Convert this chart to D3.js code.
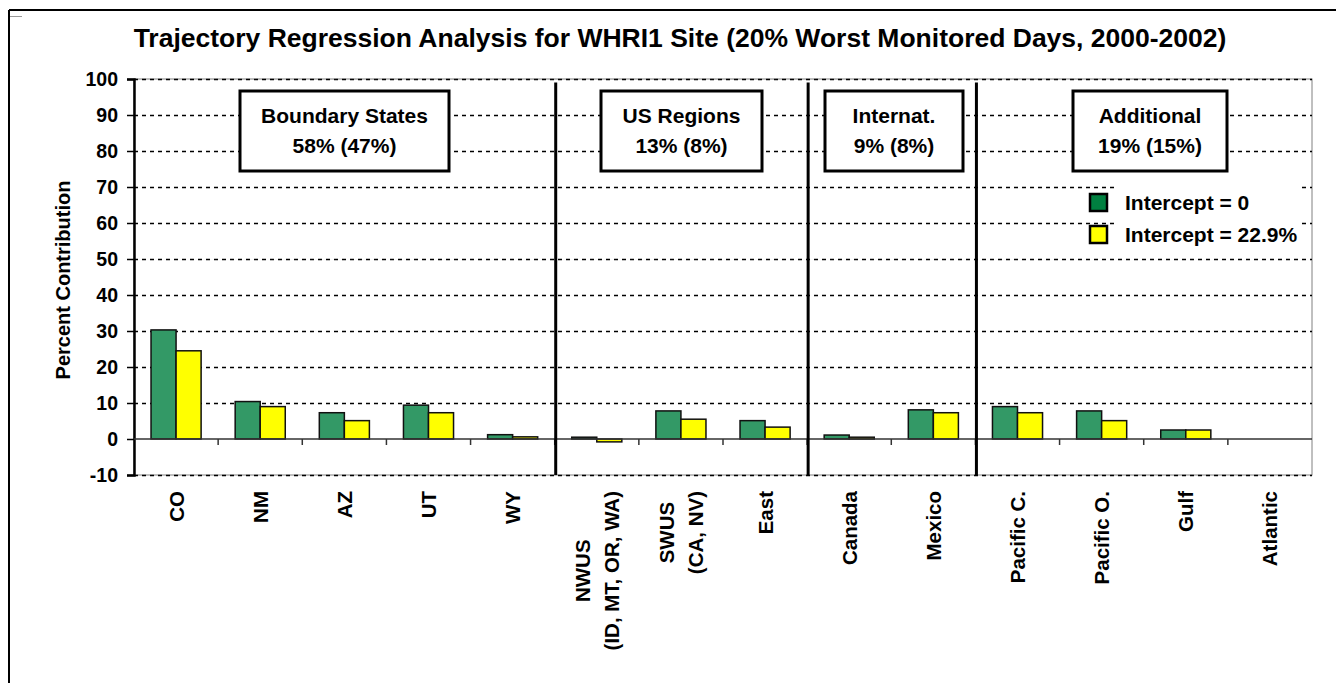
<!DOCTYPE html>
<html>
<head>
<meta charset="utf-8">
<script src="https://cdn.jsdelivr.net/npm/d3@7"></script>
<style>
  body { margin: 0; background: #fff; }
  text { font-family: "Liberation Sans", Arial, sans-serif; font-weight: bold; fill: #000; }
</style>
</head>
<body>
<div id="chart"></div>
<script>
// categories (multi-line labels split by |)
var categories = ["CO", "NM", "AZ", "UT", "WY", "NWUS|(ID, MT, OR, WA)", "SWUS|(CA, NV)", "East",
                  "Canada", "Mexico", "Pacific C.", "Pacific O.", "Gulf", "Atlantic"];
var intercept0 = [30.3, 10.4, 7.3, 9.4, 1.2, 0.5, 7.8, 5.1, 1.1, 8.1, 9.0, 7.8, 2.5, 0];
var intercept229 = [24.5, 9.0, 5.1, 7.3, 0.6, -0.8, 5.5, 3.3, 0.5, 7.3, 7.3, 5.1, 2.5, 0];
var seriesNames = ["Intercept = 0", "Intercept = 22.9%"];
var yTicks = [-10, 0, 10, 20, 30, 40, 50, 60, 70, 80, 90, 100];

// group boxes: label, summary, first category index
var groupTitles = ["Boundary States", "US Regions", "Internat.", "Additional"];
var groupSummaries = ["58% (47%)", "13% (8%)", "9% (8%)", "19% (15%)"];
var groupStarts = [0, 5, 8, 10];

var W = 1336, H = 683;
var margin = {left: 134, right: 24, top: 79, bottom: 208};
var colors = ["#339966", "#ffff00"];
var legendColors = ["#008040", "#ffff00"];

var svg = d3.select("#chart").append("svg")
  .attr("width", W).attr("height", H);

// outer frame
svg.append("line").attr("x1", 9).attr("x2", W).attr("y1", 10).attr("y2", 10)
  .attr("stroke", "#000").attr("stroke-width", 2);
svg.append("line").attr("x1", 9).attr("x2", 9).attr("y1", 10).attr("y2", H)
  .attr("stroke", "#000").attr("stroke-width", 2);
svg.append("line").attr("x1", 10).attr("x2", 22).attr("y1", 16.5).attr("y2", 16.5)
  .attr("stroke", "#999").attr("stroke-width", 1);

var x0 = d3.scaleBand()
  .domain(d3.range(categories.length))
  .range([margin.left, W - margin.right]);

var x1 = d3.scaleBand()
  .domain([0, 1])
  .range([0, x0.bandwidth()])
  .paddingOuter(0.68);

var y = d3.scaleLinear()
  .domain([-10, 100])
  .range([H - margin.bottom, margin.top]);

// title
svg.append("text")
  .attr("x", 680).attr("y", 47)
  .attr("text-anchor", "middle")
  .style("font-size", "26.5px")
  .text("Trajectory Regression Analysis for WHRI1 Site (20% Worst Monitored Days, 2000-2002)");

// plot border
svg.append("rect")
  .attr("x", margin.left).attr("y", y(100))
  .attr("width", W - margin.right - margin.left)
  .attr("height", y(-10) - y(100))
  .attr("fill", "none").attr("stroke", "#808080").attr("stroke-width", 1);

// gridlines
svg.append("g").selectAll("line")
  .data(yTicks.filter(function(d) { return d !== 0; }))
  .enter().append("line")
    .attr("x1", margin.left).attr("x2", W - margin.right)
    .attr("y1", function(d) { return y(d) + 0.5; })
    .attr("y2", function(d) { return y(d) + 0.5; })
    .attr("stroke", "#000").attr("stroke-width", 1.5)
    .attr("stroke-dasharray", "4,4");

// y axis
var yAxis = svg.append("g")
  .attr("transform", "translate(" + margin.left + ",0)")
  .call(d3.axisLeft(y).tickValues(yTicks).tickSize(7).tickPadding(9)
    .tickFormat(function(d) { return String(d); }));
yAxis.select(".domain").attr("stroke-width", 2.5);
yAxis.selectAll(".tick line").attr("stroke-width", 1.5);
yAxis.selectAll("text").style("font-size", "19.5px");

svg.append("text")
  .attr("transform", "translate(70," + 280 + ") rotate(-90)")
  .attr("text-anchor", "middle")
  .style("font-size", "20px")
  .text("Percent Contribution");

// legend white background (hides gridlines behind the text)
svg.append("rect")
  .attr("x", 1118).attr("y", 182).attr("width", 182).attr("height", 64)
  .attr("fill", "#fff");

// bars
var groups = svg.append("g").selectAll("g")
  .data(d3.range(categories.length))
  .enter().append("g")
    .attr("transform", function(i) { return "translate(" + x0(i) + ",0)"; });

groups.selectAll("rect")
  .data(function(i) { return [intercept0[i], intercept229[i]]; })
  .enter().append("rect")
    .attr("x", function(d, j) { return x1(j); })
    .attr("width", x1.bandwidth())
    .attr("y", function(d) { return y(Math.max(0, d)); })
    .attr("height", function(d) { return Math.abs(y(d) - y(0)); })
    .attr("fill", function(d, j) { return colors[j]; })
    .attr("stroke", "#111").attr("stroke-width", 1.5)
    .style("display", function(d) { return d === 0 ? "none" : null; });

// zero line and category ticks
svg.append("line")
  .attr("x1", margin.left).attr("x2", W - margin.right)
  .attr("y1", y(0)).attr("y2", y(0))
  .attr("stroke", "#333").attr("stroke-width", 1.5);
svg.append("g").selectAll("line")
  .data(d3.range(1, categories.length))
  .enter().append("line")
    .attr("x1", function(i) { return x0(i); })
    .attr("x2", function(i) { return x0(i); })
    .attr("y1", y(0)).attr("y2", y(0) + 6)
    .attr("stroke", "#333").attr("stroke-width", 1.5);

// group separators
svg.append("g").selectAll("line")
  .data(groupStarts.slice(1))
  .enter().append("line")
    .attr("x1", function(i) { return x0(i) + 1; })
    .attr("x2", function(i) { return x0(i) + 1; })
    .attr("y1", y(99)).attr("y2", y(-10))
    .attr("stroke", "#000").attr("stroke-width", 3);

// category labels
var labels = svg.append("g").selectAll("g")
  .data(d3.range(categories.length))
  .enter().append("g");

labels.each(function(i) {
  var g = d3.select(this);
  var lines = categories[i].split("|");
  var cx = x0(i) + x0.bandwidth() / 2;
  var t = g.append("text")
    .attr("text-anchor", "middle")
    .style("font-size", "20.5px");
  lines.forEach(function(l, k) {
    t.append("tspan")
      .attr("x", 0)
      .attr("y", (k - (lines.length - 1) / 2) * 29 + 7.5)
      .text(l);
  });
  var maxLen = 0;
  t.selectAll("tspan").each(function() {
    maxLen = Math.max(maxLen, this.getComputedTextLength());
  });
  g.attr("transform", "translate(" + cx + "," + (491 + maxLen / 2) + ") rotate(-90)");
});

// group boxes
var boxX = [240, 601, 825, 1073];
var boxW = [209, 161, 138, 154];
groupTitles.forEach(function(title, k) {
  var b = svg.append("g");
  b.append("rect")
    .attr("x", boxX[k]).attr("y", 91)
    .attr("width", boxW[k]).attr("height", 80)
    .attr("fill", "#fff").attr("stroke", "#000").attr("stroke-width", 3);
  b.append("text")
    .attr("x", boxX[k] + boxW[k] / 2).attr("y", 123)
    .attr("text-anchor", "middle")
    .style("font-size", "21px")
    .text(title);
  b.append("text")
    .attr("x", boxX[k] + boxW[k] / 2).attr("y", 153)
    .attr("text-anchor", "middle")
    .style("font-size", "21px")
    .text(groupSummaries[k]);
});

// legend
var legend = svg.append("g").selectAll("g")
  .data(seriesNames)
  .enter().append("g")
    .attr("transform", function(d, j) { return "translate(1090," + (194 + j * 32) + ")"; });
legend.append("rect")
  .attr("width", 17).attr("height", 17)
  .attr("fill", function(d, j) { return legendColors[j]; })
  .attr("stroke", "#000").attr("stroke-width", 2.5);
legend.append("text")
  .attr("x", 35).attr("y", 16)
  .style("font-size", "21px")
  .text(function(d) { return d; });
</script>
</body>
</html>
